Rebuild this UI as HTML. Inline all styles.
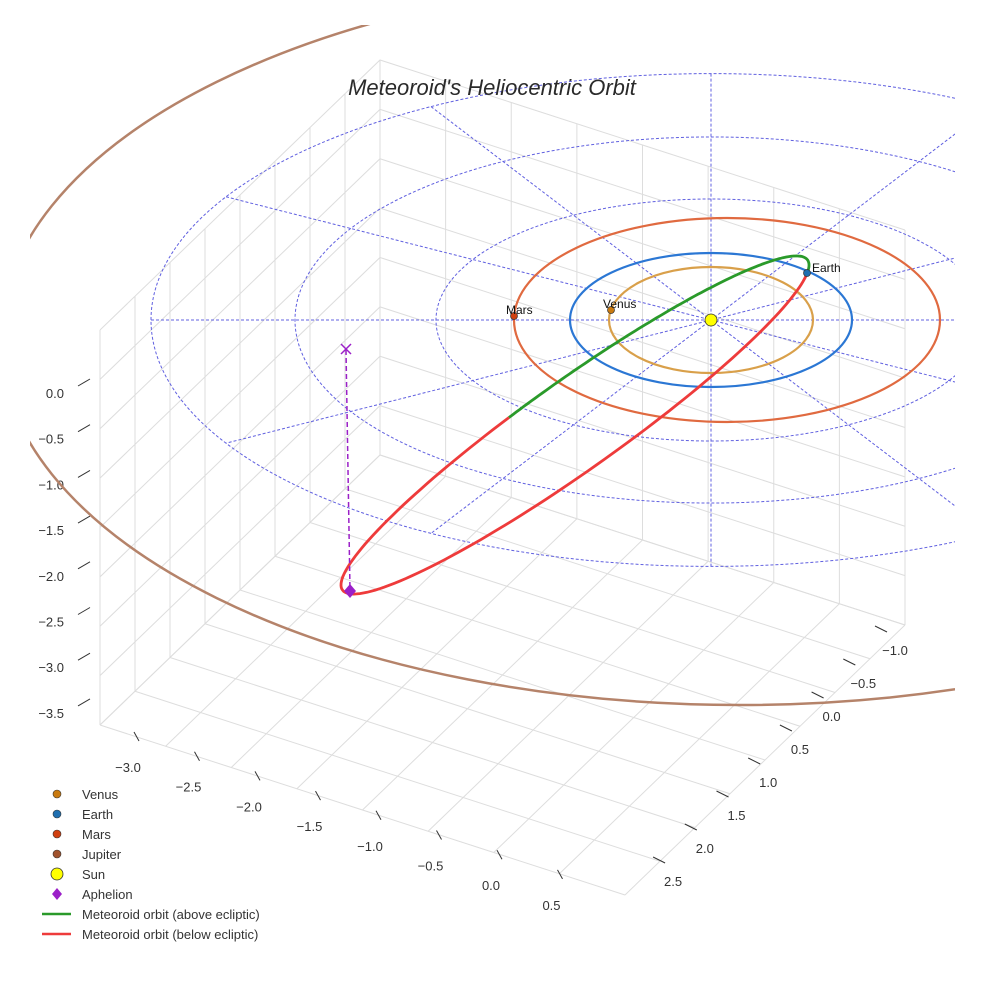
<!DOCTYPE html>
<html><head><meta charset="utf-8"><style>
html,body{margin:0;padding:0;background:#fff;}
svg{display:block;font-family:"Liberation Sans",sans-serif;}
</style></head><body>
<svg id="chart" width="984" height="984" viewBox="0 0 984 984" xmlns="http://www.w3.org/2000/svg">
<defs><clipPath id="clip"><rect x="30" y="25" width="925" height="959"/></clipPath></defs>
<g id="box"></g>
<g id="ticks"></g>
<g id="grid" clip-path="url(#clip)"></g>
<g id="orbits" clip-path="url(#clip)"></g>
<g id="meteor"></g>
<g id="bodies"></g>
<text x="492" y="95" text-anchor="middle" font-size="22" font-style="italic" fill="#2a2a2a">Meteoroid's Heliocentric Orbit</text>
<g id="legend" font-size="13" fill="#333"></g>
</svg>
<script>
const NS="http://www.w3.org/2000/svg";
const zTicks=["0.0","−0.5","−1.0","−1.5","−2.0","−2.5","−3.0","−3.5"];
const xTicks=["−3.0","−2.5","−2.0","−1.5","−1.0","−0.5","0.0","0.5"];
const yTicks=["−1.0","−0.5","0.0","0.5","1.0","1.5","2.0","2.5"];
const planetNames=["Venus","Earth","Mars"];
const planetRx=[102,141,213];
const planetRy=[53,67,102];
const planetCx=[711,711,727];
const planetColors=["#d9a04a","#2b77d4","#e06a40"];
const gridRadii=[275,416,560];
const spokeAngles=[0,30,60,90,120,150];
const meteorGreenT=[-100,13];
function el(t,a,p){const e=document.createElementNS(NS,t);for(const k in a)e.setAttribute(k,a[k]);p.appendChild(e);return e;}
const S={x:711,y:320};
const box=document.getElementById('box');
const F=[625,895],L=[100,725],R=[905,625],B=[L[0]+R[0]-F[0],L[1]+R[1]-F[1]],H=395;
for(let i=0;i<=8;i++){const t=i/8;
 let a=[F[0]+(L[0]-F[0])*t,F[1]+(L[1]-F[1])*t],b=[a[0]+R[0]-F[0],a[1]+R[1]-F[1]];
 let l=el('line',{x1:a[0],y1:a[1],x2:b[0],y2:b[1],stroke:'#ddd','stroke-width':1},box);
 
 a=[F[0]+(R[0]-F[0])*t,F[1]+(R[1]-F[1])*t];b=[a[0]+L[0]-F[0],a[1]+L[1]-F[1]];
 l=el('line',{x1:a[0],y1:a[1],x2:b[0],y2:b[1],stroke:'#ddd','stroke-width':1},box);
 
 a=[L[0]+(B[0]-L[0])*t,L[1]+(B[1]-L[1])*t];
 l=el('line',{x1:a[0],y1:a[1],x2:a[0],y2:a[1]-H,stroke:'#ddd','stroke-width':1},box);
 
 a=[B[0]+(R[0]-B[0])*t,B[1]+(R[1]-B[1])*t];
 l=el('line',{x1:a[0],y1:a[1],x2:a[0],y2:a[1]-H,stroke:'#ddd','stroke-width':1},box);
 
 const h=H*t;
 l=el('polyline',{points:`${L[0]},${L[1]-h} ${B[0]},${B[1]-h} ${R[0]},${R[1]-h}`,fill:'none',stroke:'#ddd','stroke-width':1},box);
 
}
const tk=document.getElementById('ticks');
zTicks.forEach((s,i)=>{const y=393+i*45.7;
 let l=el('line',{x1:78,y1:y-7,x2:90,y2:y-14,stroke:'#333'},tk);
 const t=el('text',{x:64,y:y+5,'text-anchor':'end','font-size':13,fill:'#333'},tk);t.textContent=s;
 });
xTicks.forEach((s,i)=>{const x=128+i*60.5,y=767+i*19.7;
 let l=el('line',{x1:x+6,y1:y-35,x2:x+11,y2:y-26,stroke:'#333'},tk);
 const t=el('text',{x:x,y:y+5,'text-anchor':'middle','font-size':13,fill:'#333'},tk);t.textContent=s;
 });
yTicks.forEach((s,i)=>{const x=895-i*31.7,y=650+i*33;
 let l=el('line',{x1:x-20,y1:y-24,x2:x-8,y2:y-18,stroke:'#333'},tk);
 const t=el('text',{x:x,y:y+5,'text-anchor':'middle','font-size':13,fill:'#333'},tk);t.textContent=s;
 });
const g=document.getElementById('grid');
const ratio=0.44;
gridRadii.forEach(r=>{const e=el('ellipse',{cx:S.x,cy:S.y,rx:r,ry:r*ratio,fill:'none',stroke:'#6060e0','stroke-width':1,'stroke-dasharray':'3,2'},g);
 });
spokeAngles.forEach(a=>{const r=560,c=Math.cos(a*Math.PI/180),s=Math.sin(a*Math.PI/180);
 const l=el('line',{x1:S.x-r*c,y1:S.y-r*ratio*s,x2:S.x+r*c,y2:S.y+r*ratio*s,stroke:'#6060e0','stroke-width':1,'stroke-dasharray':'3,2'},g);
 });
const o=document.getElementById('orbits');
const jup=el('ellipse',{cx:740,cy:340,rx:740,ry:365,fill:'none',stroke:'#b5836a','stroke-width':2.5},o);

planetNames.forEach((n,i)=>{const e=el('ellipse',{cx:planetCx[i],cy:S.y,rx:planetRx[i],ry:planetRy[i],fill:'none',stroke:planetColors[i],'stroke-width':2.2},o);
 });
const m=document.getElementById('meteor');
const C=[575,425],u=[0.816,-0.579],v=[0.579,0.816],A=285,Bm=45;
function pt(t){t*=Math.PI/180;return [C[0]+A*Math.cos(t)*u[0]+Bm*Math.sin(t)*v[0],C[1]+A*Math.cos(t)*u[1]+Bm*Math.sin(t)*v[1]];}
function path(a,b){let d='';const n=120;for(let k=0;k<=n;k++){const p=pt(a+(b-a)*k/n);d+=(d?'L':'M')+p[0].toFixed(1)+','+p[1].toFixed(1);}return d;}
let pr=el('path',{d:path(meteorGreenT[1],meteorGreenT[0]+360),fill:'none',stroke:'#ee3b3b','stroke-width':2.8},m);

let pg=el('path',{d:path(meteorGreenT[0],meteorGreenT[1]),fill:'none',stroke:'#2a9a2a','stroke-width':2.8},m);

let dl=el('line',{x1:346,y1:350,x2:350,y2:590,stroke:'#9b20c8','stroke-width':1.5,'stroke-dasharray':'5,3'},m);

let xm=el('path',{d:'M341,344 L351,354 M351,344 L341,354',stroke:'#9b20c8','stroke-width':1.5},m);

const bd=document.getElementById('bodies');
const bodyPts=[["Venus",611,310,"#c97a10"],["Earth",807,273,"#1f6fb0"],["Mars",514,316,"#d04010"]];
bodyPts.forEach(b=>{const c=el('circle',{cx:b[1],cy:b[2],r:3.5,fill:b[3],stroke:'#333','stroke-width':0.7},bd);
 
 const t=el('text',{x:b[1]+(b[0]==='Earth'?5:-8),y:b[2]-(b[0]==='Earth'?1:2),'font-size':12,fill:'#111'},bd);t.textContent=b[0];
 });
let sun=el('circle',{cx:S.x,cy:S.y,r:6,fill:'#ffff00',stroke:'#333','stroke-width':0.8},bd);
let aph=el('path',{d:'M350,584 L356,591 L350,598 L344,591 Z',fill:'#9b20c8'},bd);
const lg=document.getElementById('legend');
const legItems=[["Venus","#c97a10","dot"],["Earth","#1f6fb0","dot"],["Mars","#d04010","dot"],["Jupiter","#a0522d","dot"],["Sun","#ffff00","sun"],["Aphelion","#9b20c8","dia"],["Meteoroid orbit (above ecliptic)","#2a9a2a","line"],["Meteoroid orbit (below ecliptic)","#ee3b3b","line"]];
legItems.forEach((it,i)=>{const y=794+i*20;
 let mk;
 if(it[2]==='dot')mk=el('circle',{cx:57,cy:y,r:4,fill:it[1],stroke:'#333','stroke-width':0.6},lg);
 else if(it[2]==='sun')mk=el('circle',{cx:57,cy:y,r:6,fill:it[1],stroke:'#333','stroke-width':0.8},lg);
 else if(it[2]==='dia')mk=el('path',{d:`M57,${y-6} L62,${y} L57,${y+6} L52,${y} Z`,fill:it[1]},lg);
 else mk=el('line',{x1:42,y1:y,x2:71,y2:y,stroke:it[1],'stroke-width':2.5},lg);
 
 const t=el('text',{x:82,y:y+5,'font-size':13,fill:'#333'},lg);t.textContent=it[0];
 });
</script>
</body></html>
